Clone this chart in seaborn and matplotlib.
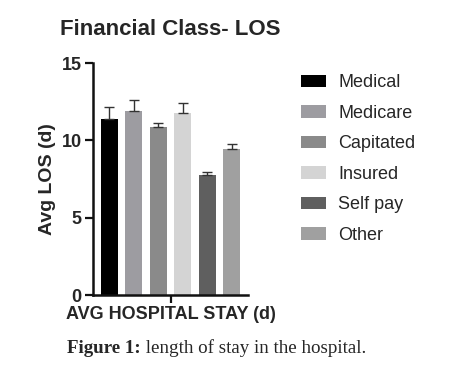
import matplotlib
matplotlib.use("Agg")
import matplotlib.pyplot as plt
import seaborn as sns
import pandas as pd

# Data
categories = ["Medical", "Medicare", "Capitated", "Insured", "Self pay", "Other"]
means = [11.4, 11.9, 10.9, 11.75, 7.75, 9.45]
errs = [0.75, 0.75, 0.25, 0.65, 0.2, 0.3]
colors = ["#000000", "#9d9ca1", "#8a8a8a", "#d4d4d4", "#5f5f5f", "#a0a0a0"]
group = "AVG HOSPITAL STAY (d)"

df = pd.DataFrame({"group": [group] * len(categories), "cls": categories, "los": means})

sns.set_style("ticks")
plt.rcParams["font.family"] = ["Liberation Sans", "DejaVu Sans"]

fig = plt.figure(figsize=(4.49, 3.76), dpi=100)
ax = fig.add_axes([0.207, 0.215, 0.345, 0.617])

sns.barplot(data=df, x="group", y="los", hue="cls", hue_order=categories,
            palette=colors, width=0.8, gap=0.3, errorbar=None, ax=ax,
            saturation=1, linewidth=0)

# upward-only error bars with caps
bars = [p for p in ax.patches if p.get_height() > 0][:len(categories)]
for p, e in zip(bars, errs):
    xc = p.get_x() + p.get_width() / 2
    ax.errorbar(xc, p.get_height(), yerr=[[0], [e]], fmt="none",
                ecolor="#333333", elinewidth=1.0, capsize=3.5, capthick=1.0)

ax.set_xlim(-0.423, 0.42)
ax.set_ylim(0, 15)
ax.set_yticks([0, 5, 10, 15])
ax.set_xlabel("")
ax.set_xticks([0])
ax.set_xticklabels([group], fontsize=13, fontweight="bold")
ax.set_ylabel("Avg LOS (d)", fontsize=14, fontweight="bold", labelpad=4)
for lab in ax.get_yticklabels():
    lab.set_fontweight("bold")
    lab.set_fontsize(13)
ax.tick_params(axis="both", width=1.6, length=6, color="#111111", pad=2)
for s in ["left", "bottom"]:
    ax.spines[s].set_linewidth(1.8)
    ax.spines[s].set_color("#111111")
sns.despine(ax=ax)

ax.set_title("Financial Class- LOS", fontsize=16, fontweight="bold", pad=20, x=0.5)

handles, labels = ax.get_legend_handles_labels()
ax.legend(handles, labels, loc="upper left", bbox_to_anchor=(0.655, 0.822),
          bbox_transform=fig.transFigure, frameon=False, fontsize=13,
          handlelength=1.35, handleheight=0.7, labelspacing=0.75,
          handletextpad=0.7, borderaxespad=0)

# caption
t1 = fig.text(0.149, 0.06, "Figure 1:", family="Liberation Serif",
              fontweight="bold", fontsize=13.7, va="baseline")
ax.annotate(" length of stay in the hospital.", xy=(1, 0), xycoords=t1,
            va="bottom", ha="left", family="Liberation Serif", fontsize=13.7,
            annotation_clip=False)

fig.savefig("out.png", dpi=100)
